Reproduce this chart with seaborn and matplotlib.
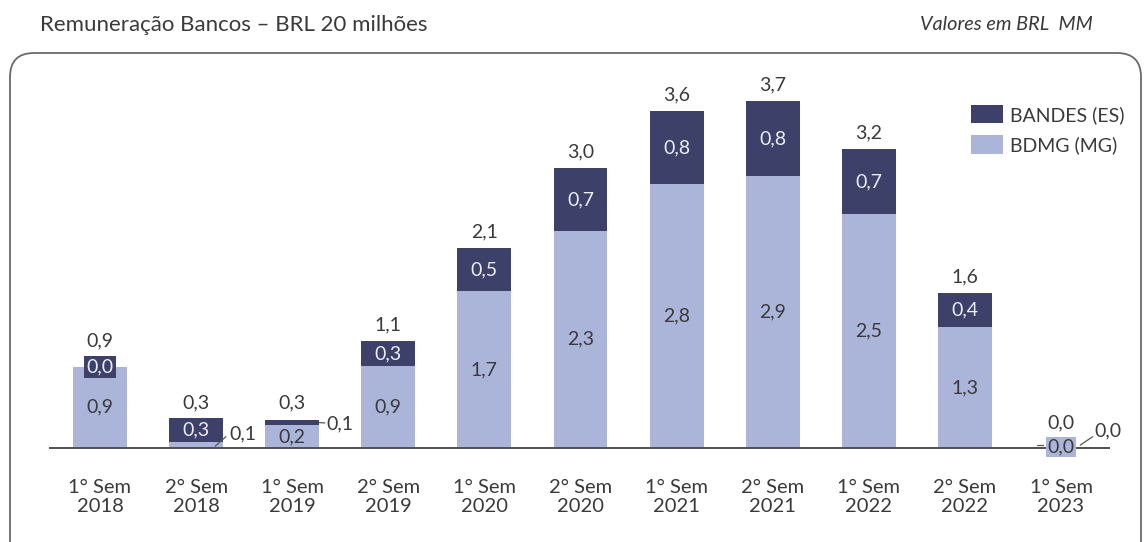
import matplotlib
matplotlib.use("Agg")
import matplotlib.pyplot as plt
import seaborn as sns
import pandas as pd
from matplotlib.patches import FancyBboxPatch, Patch

# ---- data ----
periods = ["1° Sem\n2018", "2° Sem\n2018", "1° Sem\n2019", "2° Sem\n2019",
           "1° Sem\n2020", "2° Sem\n2020", "1° Sem\n2021", "2° Sem\n2021",
           "1° Sem\n2022", "2° Sem\n2022", "1° Sem\n2023"]
bdmg = [0.86, 0.06, 0.24, 0.87, 1.66, 2.30, 2.79, 2.88, 2.48, 1.28, 0.0]
bandes = [0.0, 0.26, 0.06, 0.26, 0.46, 0.66, 0.78, 0.79, 0.68, 0.36, 0.0]
series_names = ["BANDES (ES)", "BDMG (MG)"]

DARK = "#3d4068"
LIGHT = "#abb5d9"
TXT = "#3a3a3a"
WTXT = "#eceef5"
FONT = ["Lato", "DejaVu Sans"]

totals = [a + b for a, b in zip(bdmg, bandes)]
df = pd.DataFrame({"period": periods, "BDMG": bdmg, "BANDES": bandes, "total": totals})


def fmt(v):
    return f"{v:.1f}".replace(".", ",")


sns.set_theme(style="white")
plt.rcParams["font.family"] = FONT

W, H = 1144, 542
fig = plt.figure(figsize=(W / 100, H / 100), dpi=100)
fig.patch.set_facecolor("white")

# rounded frame
frame = FancyBboxPatch((0.10, -0.5), 11.31, 0.5 + (H - 53) / 100,
                       boxstyle="round,pad=0,rounding_size=0.24",
                       transform=fig.dpi_scale_trans, fc="none",
                       ec="#6a6a6a", lw=1.3, zorder=0)
fig.patches.append(frame)

fig.text(40 / W, 1 - 25 / H, "Remuneração Bancos – BRL 20 milhões",
         fontsize=16, color=TXT, ha="left", va="center")
fig.text(1093 / W, 1 - 25 / H, "Valores em BRL  MM", fontsize=14.3,
         color=TXT, ha="right", va="center", style="italic")

x0 = 100 - 0.52 * 96.1
ax = fig.add_axes([x0 / W, 1 - 448 / H, 11.02 * 96.1 / W, 378 / H])
ax.set_facecolor("none")

sns.barplot(data=df, x="period", y="total", color=DARK, width=0.56,
            saturation=1, linewidth=0, edgecolor="none", ax=ax, zorder=2)
sns.barplot(data=df, x="period", y="BDMG", color=LIGHT, width=0.56,
            saturation=1, linewidth=0, edgecolor="none", ax=ax, zorder=3)

ax.set_xlim(-0.52, 10.5)
ax.set_ylim(0, 4.0)
ax.set_xlabel("")
ax.set_ylabel("")
ax.set_yticks([])
for s in ["left", "right", "top"]:
    ax.spines[s].set_visible(False)
ax.spines["bottom"].set_color("#505050")
ax.spines["bottom"].set_linewidth(1.4)
ax.spines["bottom"].set_zorder(5)
ax.tick_params(axis="x", length=0, pad=22, labelsize=14.5, labelcolor=TXT)
for lab in ax.get_xticklabels():
    lab.set_linespacing(1.17)

fs = 14
LC = "#555555"
for i in range(len(periods)):
    b, d, t = bdmg[i], bandes[i], totals[i]
    if i == 0:
        ax.text(i, b / 2, fmt(b), ha="center", va="center", fontsize=fs, color=TXT, zorder=6)
        ax.text(i, b, fmt(d), ha="center", va="center", fontsize=fs, color=WTXT, zorder=6,
                bbox=dict(boxstyle="square,pad=0.12", fc=DARK, ec="none"))
        ax.text(i, t + 0.27, fmt(t), ha="center", va="center", fontsize=fs, color=TXT, zorder=6)
    elif i == 1:
        ax.text(i, b + d / 2, fmt(d), ha="center", va="center", fontsize=fs, color=WTXT, zorder=6)
        ax.plot([i + 0.20, i + 0.31], [0.02, 0.12], color=LC, lw=0.9, zorder=6)
        ax.text(i + 0.49, 0.15, fmt(b), ha="center", va="center", fontsize=fs, color=TXT, zorder=6)
        ax.text(i, t + 0.16, fmt(t), ha="center", va="center", fontsize=fs, color=TXT, zorder=6)
    elif i == 2:
        ax.text(i, b / 2, fmt(b), ha="center", va="center", fontsize=fs, color=TXT, zorder=6)
        ax.plot([i + 0.27, i + 0.34], [b + d / 2, 0.265], color=LC, lw=0.9, zorder=6)
        ax.text(i + 0.50, 0.26, fmt(d), ha="center", va="center", fontsize=fs, color=TXT, zorder=6)
        ax.text(i, t + 0.18, fmt(t), ha="center", va="center", fontsize=fs, color=TXT, zorder=6)
    elif i == 10:
        ax.text(i, 0.01, fmt(b), ha="center", va="center", fontsize=fs, color=TXT, zorder=6,
                bbox=dict(boxstyle="square,pad=0.08", fc=LIGHT, ec="none"))
        ax.plot([i + 0.20, i + 0.33], [0.03, 0.12], color=LC, lw=0.9, zorder=6)
        ax.plot([i - 0.25, i - 0.19], [0.03, 0.03], color=LC, lw=0.9, zorder=6)
        ax.text(i + 0.49, 0.18, fmt(d), ha="center", va="center", fontsize=fs, color=TXT, zorder=6)
        ax.text(i, 0.27, fmt(t), ha="center", va="center", fontsize=fs, color=TXT, zorder=6)
    else:
        ax.text(i, b / 2, fmt(b), ha="center", va="center", fontsize=fs, color=TXT, zorder=6)
        ax.text(i, b + d / 2, fmt(d), ha="center", va="center", fontsize=fs, color=WTXT, zorder=6)
        ax.text(i, t + 0.17, fmt(t), ha="center", va="center", fontsize=fs, color=TXT, zorder=6)

handles = [Patch(facecolor=DARK, edgecolor="none", label=series_names[0]),
           Patch(facecolor=LIGHT, edgecolor="none", label=series_names[1])]
leg = fig.legend(handles=handles, loc="upper left", bbox_to_anchor=(971 / W, 1 - 105 / H),
                 bbox_transform=fig.transFigure, frameon=False, fontsize=14,
                 handlelength=1.65, handleheight=1.08, handletextpad=0.36,
                 labelspacing=0.6, borderaxespad=0, borderpad=0)
for t in leg.get_texts():
    t.set_color(TXT)

fig.savefig("out.png", dpi=100, facecolor="white")
